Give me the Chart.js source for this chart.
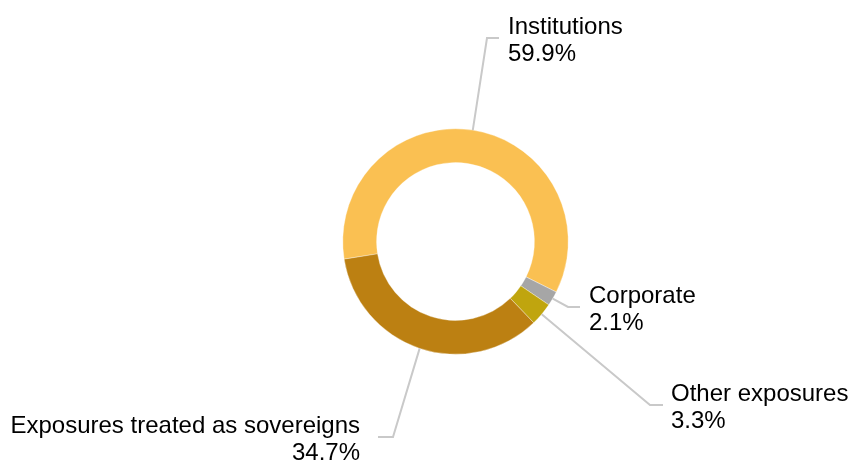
<!DOCTYPE html>
<html>
<head>
<meta charset="utf-8">
<title>Exposure breakdown</title>
<script src="https://cdn.jsdelivr.net/npm/chart.js@4/dist/chart.umd.min.js"></script>
<style>
    html, body { margin: 0; padding: 0; background: #fff; }
    #wrap { position: relative; width: 850px; height: 461px; }
</style>
</head>
<body>
<div id="wrap"><canvas id="exposureChart"></canvas></div>
<script>
// --- Data ---
const categories = ['Institutions', 'Corporate', 'Other exposures', 'Exposures treated as sovereigns'];
const shares = [59.9, 2.1, 3.3, 34.7];
const sliceColors = ['#FAC052', '#A6A6A6', '#C0A50E', '#BC8012'];

// --- Label placement (leader elbow, text anchor) ---
const labelSpots = [
    { elbowX: 487, elbowY: 38,  endX: 499, textX: 508, align: 'left' },
    { elbowX: 568, elbowY: 307, endX: 580, textX: 589, align: 'left' },
    { elbowX: 650, elbowY: 405, endX: 663, textX: 671, align: 'left' },
    { elbowX: 393, elbowY: 437, endX: 378, textX: 360, align: 'right' }
];

const FONT = '24px "Liberation Sans", Arial, sans-serif';
const LINE_GAP = 27;

// Leader lines and two-line labels drawn from each arc's mid angle
const leaderLabels = {
    id: 'leaderLabels',
    afterDatasetsDraw(chart) {
        const ctx = chart.ctx;
        const meta = chart.getDatasetMeta(0);
        ctx.save();
        meta.data.forEach((arc, i) => {
            const p = arc.getProps(['x', 'y', 'startAngle', 'endAngle', 'outerRadius'], true);
            const mid = (p.startAngle + p.endAngle) / 2;
            const sx = p.x + Math.cos(mid) * p.outerRadius;
            const sy = p.y + Math.sin(mid) * p.outerRadius;
            const spot = labelSpots[i];

            ctx.beginPath();
            ctx.moveTo(sx, sy);
            ctx.lineTo(spot.elbowX, spot.elbowY);
            ctx.lineTo(spot.endX, spot.elbowY);
            ctx.strokeStyle = '#C9C9C9';
            ctx.lineWidth = 2;
            ctx.stroke();

            ctx.font = FONT;
            ctx.fillStyle = '#000';
            ctx.textAlign = spot.align;
            ctx.textBaseline = 'alphabetic';
            const base = spot.elbowY - 4.5;
            ctx.fillText(categories[i], spot.textX, base);
            ctx.fillText(shares[i].toFixed(1) + '%', spot.textX, base + LINE_GAP);
        });
        ctx.restore();
    }
};

const ctx = document.getElementById('exposureChart').getContext('2d');
new Chart(ctx, {
    type: 'doughnut',
    data: {
        labels: categories,
        datasets: [{
            data: shares,
            backgroundColor: sliceColors,
            borderColor: 'rgba(255,255,255,0.7)',
            borderWidth: 0.5
        }]
    },
    options: {
        responsive: true,
        maintainAspectRatio: false,
        animation: false,
        rotation: 261,
        cutout: '70%',
        layout: {
            padding: { top: 128.5, bottom: 106.5, left: 61, right: 0 }
        },
        plugins: {
            legend: { display: false },
            tooltip: { enabled: false }
        }
    },
    plugins: [leaderLabels]
});
</script>
</body>
</html>
